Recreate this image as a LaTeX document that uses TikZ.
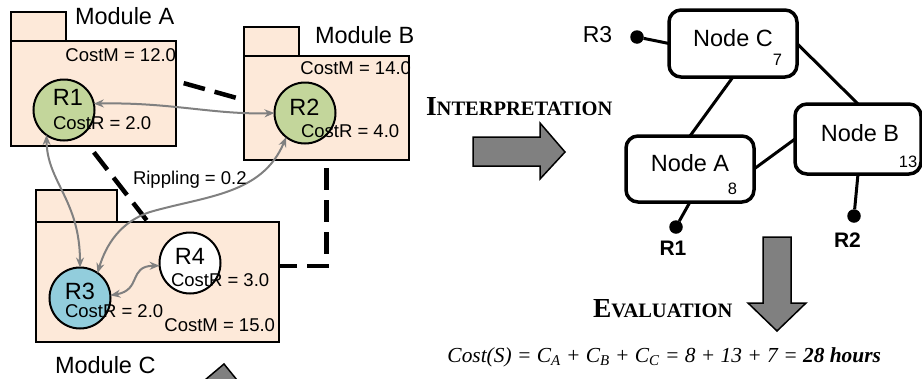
\documentclass[tikz,border=0pt]{standalone}
\usepackage{fontspec}
\setmainfont{Liberation Sans}
\newfontfamily\serifTNR{Liberation Serif}
\usetikzlibrary{arrows.meta,calc}
\newcommand\fsz[1]{\fontsize{#1pt}{#1pt}\selectfont}
\newcommand\smcap[2]{{\fsz{27.5}#1}{\fsz{20.5}#2}}
\definecolor{modfill}{HTML}{FDE9D9}
\definecolor{rgreen}{HTML}{C3D69B}
\definecolor{rblue}{HTML}{92CDDC}
\definecolor{arrgray}{HTML}{808080}
\begin{document}
\begin{tikzpicture}[x=1pt,y=-1pt,
 modbox/.style={draw=black,line width=2.5pt,fill=modfill,inner sep=0,outer sep=0,rectangle},
 res/.style={circle,draw=black,line width=2pt,inner sep=0,outer sep=0,minimum size=61pt},
 lbl/.style={inner sep=0,outer sep=0,font=\fsz{18.5}},
 big/.style={inner sep=0,outer sep=0,font=\fsz{23.5}},
 num/.style={inner sep=0,outer sep=0,font=\fsz{16.5}},
 dep/.style={line width=4.5pt,dash pattern=on 22pt off 10pt,dash phase=24pt},
 ripple/.style={draw=arrgray,line width=2pt,{Stealth[length=10pt,width=8pt]}-{Stealth[length=10pt,width=8pt]}},
 gnode/.style={draw=black,line width=3.5pt,rounded corners=12pt,inner sep=0,outer sep=0,rectangle},
 gedge/.style={line width=3pt},
 dot/.style={circle,fill=black,inner sep=0,outer sep=0,minimum size=13.5pt},
 blockarrow/.style={fill=arrgray,draw=black,line width=1.5pt,line join=miter},
 sctitle/.style={inner sep=0,outer sep=0,font=\serifTNR\bfseries}
]
\useasboundingbox (0,0) rectangle (922,378);
\clip (0,0) rectangle (922,378);

% modules
\node[modbox,minimum width=55pt,minimum height=29pt] (tabA) at (38.5,26.5) {};
\node[modbox,minimum width=165pt,minimum height=105pt] (mA) at (93.5,93.5) {};
\node[modbox,minimum width=55pt,minimum height=29pt] (tabB) at (271.5,41.5) {};
\node[modbox,minimum width=165pt,minimum height=104pt] (mB) at (326.5,108) {};
\node[modbox,minimum width=81pt,minimum height=32pt] (tabC) at (76.5,206) {};
\node[modbox,minimum width=243pt,minimum height=120pt] (mC) at (157.5,282) {};

% dependencies
\draw[dep] ([yshift=12.5pt]mA.east) -- ([yshift=8pt]mB.west);
\draw[dep] ([xshift=-4.5pt]mA.south) -- ([xshift=-9.5pt]mC.north);
\draw[dep] (mB.south) |- ([yshift=16pt]mC.east);

% module labels
\node[big,anchor=base west] (labA) at (75,24) {Module A};
\node[big,anchor=base west] (labB) at (315,43.5) {Module B};
\node[big,anchor=base west] (labC) at (55,373.5) {Module C};
\node[lbl,anchor=base east] (cmA) at (176,61.5) {CostM = 12.0};
\node[lbl,anchor=base east] (cmB) at (411,74.5) {CostM = 14.0};
\node[lbl,anchor=base east] (cmC) at (275,331.5) {CostM = 15.0};

% resources
\node[res,fill=rgreen] (r1) at (64,110) {};
\node[res,fill=rgreen] (r2) at (305,113) {};
\node[res,fill=rblue] (r3) at (80,298) {};
\node[res,fill=white] (r4) at (190,263) {};
\node[big,anchor=base] (t1) at (68,105) {R1};
\node[lbl,anchor=base west] (c1) at (53,129.5) {CostR = 2.0};
\node[big,anchor=base] (t2) at (304.5,115) {R2};
\node[lbl,anchor=base west] (c2) at (301,137.5) {CostR = 4.0};
\node[big,anchor=base] (t3) at (80,299) {R3};
\node[lbl,anchor=base west] (c3) at (65,317.5) {CostR = 2.0};
\node[big,anchor=base] (t4) at (190,264) {R4};
\node[lbl,anchor=base west] (c4) at (171,286.5) {CostR = 3.0};

% rippling
\draw[ripple] (r1.12) .. controls (170,102) and (215,115) .. (r2.west);
\draw[ripple] (r1.235) .. controls (47,182) and (80,200) .. (r3.north);
\draw[ripple] (r2.232) .. controls (262,195) and (205,196) .. (150,212) .. controls (120,222) and (106,245) .. (r3.55);
\draw[ripple] (r3.5) .. controls (142,290) and (128,266) .. (r4.185);
\node[lbl,anchor=base west] (rip) at (133,184.5) {Rippling = 0.2};

% interpretation
\node[sctitle,anchor=base west] (interp) at (426,115) {\smcap{I}{NTERPRETATION}};
\draw[blockarrow] (473,137) -- (540,137) -- (540,123) -- (565,152) -- (540,179) -- (540,166) -- (473,166) -- cycle;

% graph
\node[gnode,minimum width=128pt,minimum height=67pt] (nC) at (733,43.5) {};
\node[gnode,minimum width=126pt,minimum height=70pt] (nB) at (858,139) {};
\node[gnode,minimum width=128pt,minimum height=66pt] (nA) at (690,169) {};
\node[big,anchor=base] (tC) at (733,46.5) {Node C};
\node[num,anchor=base] (vC) at (777.5,65) {7};
\node[big,anchor=base] (tB) at (860,141.5) {Node B};
\node[num,anchor=base] (vB) at (908,167) {13};
\node[big,anchor=base] (tA) at (690,171.5) {Node A};
\node[num,anchor=base] (vA) at (732.5,194) {8};
\draw[gedge] (nC.east) -- (nB.north);
\draw[gedge] (nC.south) -- (nA.north);
\draw[gedge] (nA.east) -- (nB.west);
\node[dot] (d3) at (637,37) {};
\node[dot] (d1) at (676,227) {};
\node[dot] (d2) at (854,216) {};
\draw[gedge] (d3) -- (nC.west);
\draw[gedge] (d1) -- (nA.south);
\draw[gedge] (d2) -- (nB.south);
\node[inner sep=0,font=\fsz{23},anchor=base] (g3) at (597.5,42) {R3};
\node[inner sep=0,font=\fsz{21}\bfseries,anchor=base] (g1) at (673,255.5) {R1};
\node[inner sep=0,font=\fsz{21}\bfseries,anchor=base] (g2) at (847.5,247.5) {R2};

% evaluation
\draw[blockarrow] (763,237) -- (791,237) -- (791,303) -- (806,303) -- (777,331) -- (748,303) -- (763,303) -- cycle;
\node[sctitle,anchor=base west] (evalt) at (593,317) {\smcap{E}{VALUATION}};
\node[inner sep=0,outer sep=0,anchor=base east,font=\serifTNR\itshape\fsz{21.4}] (formula) at (881,362)
  {Cost(S) = C\textsubscript{A} + C\textsubscript{B} + C\textsubscript{C} = 8 + 13 + 7 = \textbf{28 hours}};

% clipped arrow at bottom
\draw[blockarrow] (205,380) -- (224,364) -- (237,380);
\end{tikzpicture}
\end{document}
